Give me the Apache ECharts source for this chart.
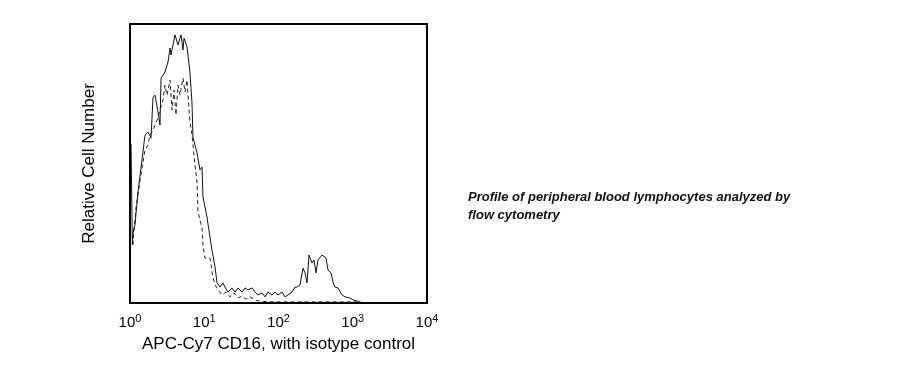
<!DOCTYPE html>
<html>
<head>
<meta charset="utf-8">
<script src="https://cdn.jsdelivr.net/npm/echarts@6/dist/echarts.min.js"></script>
<style>
html,body{margin:0;padding:0;background:#fff;}
#chart{width:907px;height:380px;}
</style>
</head>
<body>
<div id="chart"></div>
<script>
// x positions in decades (log10 of fluorescence), y = relative cell number (0-100)
var cd16X = [0.014,0.026,0.032,0.04,0.067,0.108,0.148,0.202,0.242,0.283,0.31,0.337,0.377,0.404,0.418,0.471,0.512,0.539,0.552,0.606,0.646,0.687,0.714,0.727,0.768,0.808,0.835,0.848,0.902,0.943,0.970,0.983,1.037,1.077,1.104,1.145,1.172,1.212,1.253,1.279,1.320,1.374,1.414,1.455,1.508,1.549,1.589,1.643,1.684,1.724,1.778,1.818,1.859,1.912,1.953,1.993,2.047,2.088,2.128,2.182,2.222,2.249,2.290,2.330,2.357,2.384,2.411,2.451,2.478,2.505,2.532,2.586,2.599,2.640,2.667,2.707,2.734,2.761,2.801,2.855,2.896,2.963,3.003,3.057,3.098,3.125];
var cd16Y = [57,57,21,25,28.0,39.8,48.4,60.2,61.3,59.1,73.8,74.5,68.5,63.8,80.6,82.8,86.4,91.4,88.9,96.1,92.5,96.1,90.7,94.9,91.8,82.4,71.7,59.5,53.8,47.7,48.7,38.0,30.8,23.7,19.0,12.9,7.2,5.7,7.2,5.7,3.9,5.4,3.9,5.4,3.9,5.4,4.7,5.4,3.9,2.9,3.6,2.2,3.9,2.9,3.9,2.9,3.9,2.2,2.9,3.9,5.7,5.7,6.5,12.5,10.8,7.2,17.2,14.3,15.4,10.8,15.4,17.2,17.9,16.1,11.8,10.8,7.5,5.7,5.4,2.9,2.2,1.8,1.1,0.7,0.4,0];
var isoX = [0.04,0.054,0.081,0.135,0.202,0.242,0.269,0.31,0.337,0.377,0.404,0.444,0.471,0.498,0.539,0.566,0.593,0.620,0.646,0.673,0.714,0.741,0.768,0.795,0.808,0.835,0.875,0.902,0.916,0.970,0.983,1.010,1.077,1.118,1.145,1.185,1.239,1.293,1.347,1.401,1.455,1.508,1.562,1.616,1.684,1.751,1.886,2.020,2.290,2.559,2.828,3.057];
var isoY = [20.8,26.2,34.1,44.1,54.8,56.6,60.2,62.0,63.8,66.3,69.2,72.8,78.1,74.5,79.9,69.2,76.3,67.4,78.1,74.5,80.6,75.6,79.9,69.2,64.9,60.2,49.5,43.4,32.6,26.9,20.8,16.1,16.1,9.0,6.5,4.7,2.9,3.9,2.2,3.6,1.8,2.5,1.4,2.2,1.1,0.7,0.4,0.4,0.4,0.4,0.4,0.4];
var tickExponents = ['0','1','2','3','4'];
var xTitle = 'APC-Cy7 CD16, with isotype control';
var yTitle = 'Relative Cell Number';
var note = 'Profile of peripheral blood lymphocytes analyzed by\nflow cytometry';

function pairs(xs, ys){ return xs.map(function(x,i){ return [x, ys[i]]; }); }

var chart = echarts.init(document.getElementById('chart'), null, {renderer:'canvas'});
var FF = '"Liberation Sans", Arial, sans-serif';
chart.setOption({
  animation:false,
  backgroundColor:'#fff',
  title:{
    text: note, left: 468, top: 188, padding:0,
    textStyle:{fontFamily:FF, fontSize:13, fontWeight:'bold', fontStyle:'italic', color:'#111', lineHeight:18}
  },
  grid:{left:130, top:24, width:297, height:279, show:true, borderColor:'#000', borderWidth:2, backgroundColor:'transparent'},
  xAxis:{
    type:'value', min:0, max:4, interval:1,
    axisLine:{show:false}, axisTick:{show:false}, splitLine:{show:false},
    axisLabel:{
      margin:10,
      formatter:function(v){ return '{b|10}{s|' + tickExponents[Math.round(v)] + '}'; },
      rich:{
        b:{fontFamily:FF, fontSize:15, color:'#000'},
        s:{fontFamily:FF, fontSize:11, color:'#000', padding:[0,0,9,0]}
      }
    },
    name: xTitle, nameLocation:'middle', nameGap:32,
    nameTextStyle:{fontFamily:FF, fontSize:17, color:'#000'}
  },
  yAxis:{
    type:'value', min:0, max:100,
    axisLine:{show:false}, axisTick:{show:false}, splitLine:{show:false}, axisLabel:{show:false},
    name: yTitle, nameLocation:'middle', nameGap:32,
    nameTextStyle:{fontFamily:FF, fontSize:17, color:'#000'}
  },
  series:[
    {type:'line', data:pairs(isoX, isoY), symbol:'none', lineStyle:{color:'#222', width:1, type:[4,3]}, z:2},
    {type:'line', data:pairs(cd16X, cd16Y), symbol:'none', lineStyle:{color:'#111', width:1}, z:3}
  ]
});
</script>
</body>
</html>
